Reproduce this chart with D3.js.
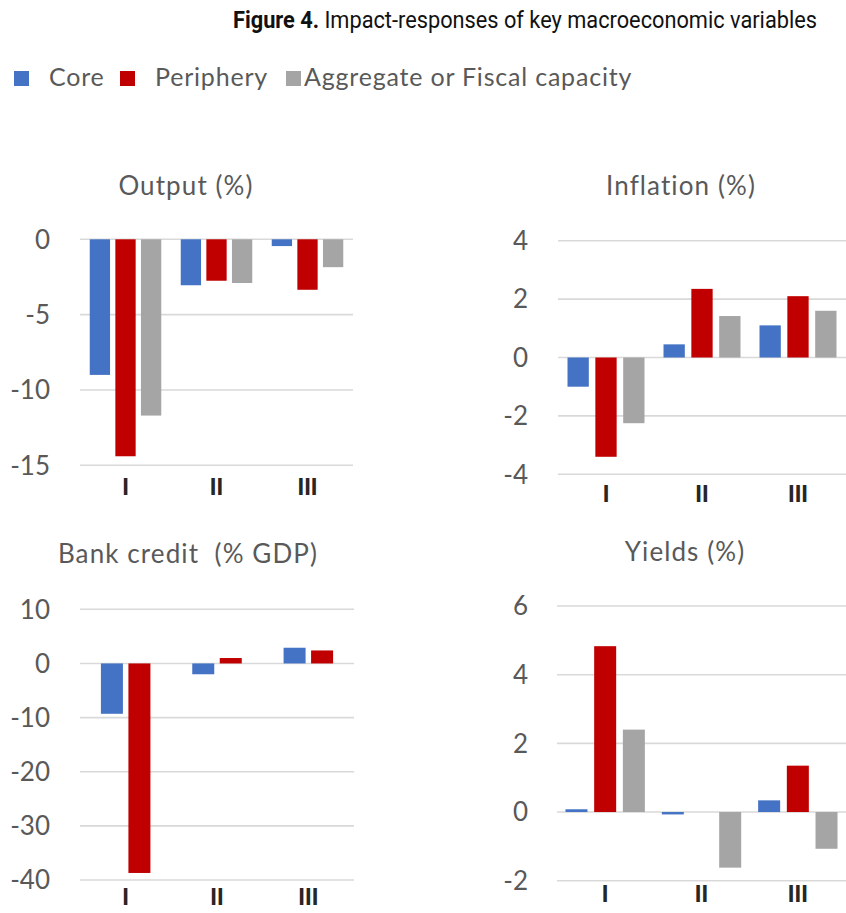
<!DOCTYPE html>
<html>
<head>
<meta charset="utf-8">
<script src="https://cdn.jsdelivr.net/npm/d3@7"></script>
<style>
  html, body { margin: 0; padding: 0; background: #ffffff; }
  svg { display: block; }
</style>
</head>
<body>
<script>
// ---------- DATA ----------
const categories = ["I", "II", "III"];
const seriesNames = ["Core", "Periphery", "Aggregate or Fiscal capacity"];
const seriesColors = ["#4472C4", "#C00000", "#A5A5A5"];

const outputCore = [-9.0, -3.05, -0.45];
const outputPeriphery = [-14.4, -2.75, -3.35];
const outputAggregate = [-11.7, -2.9, -1.85];
const outputTicks = [0, -5, -10, -15];

const inflationCore = [-1.0, 0.45, 1.1];
const inflationPeriphery = [-3.4, 2.35, 2.1];
const inflationAggregate = [-2.25, 1.42, 1.6];
const inflationTicks = [4, 2, 0, -2, -4];

const creditCore = [-9.3, -2.0, 2.9];
const creditPeriphery = [-38.7, 1.0, 2.4];
const creditTicks = [10, 0, -10, -20, -30, -40];

const yieldsCore = [0.08, -0.07, 0.34];
const yieldsPeriphery = [4.83, 0.0, 1.35];
const yieldsAggregate = [2.4, -1.62, -1.07];
const yieldsTicks = [6, 4, 2, 0, -2];

const titleBold = "Figure 4.";
const titleRest = " Impact-responses of key macroeconomic variables";

// ---------- LAYOUT ----------
const W = 846, H = 913;
const svg = d3.select("body").append("svg").attr("width", W).attr("height", H);

svg.append("text")
  .attr("x", 233).attr("y", 28)
  .attr("textLength", 584).attr("lengthAdjust", "spacingAndGlyphs")
  .style("font-family", "Roboto, sans-serif")
  .style("font-size", "23px")
  .attr("fill", "#111")
  .call(t => {
    t.append("tspan").attr("font-weight", "bold").text(titleBold);
    t.append("tspan").text(titleRest);
  });

// legend
const legendItems = [
  { sq: 14, tx: 49 },
  { sq: 120, tx: 155 },
  { sq: 286, tx: 304 }
];
seriesNames.forEach((name, i) => {
  svg.append("rect").attr("x", legendItems[i].sq).attr("y", 71)
    .attr("width", 15).attr("height", 15).attr("fill", seriesColors[i]);
  svg.append("text").attr("x", legendItems[i].tx).attr("y", 86)
    .style("font-family", "Lato, sans-serif").style("font-size", "25px")
    .style("letter-spacing", "0.8px")
    .attr("fill", "#595959").text(name);
});

const panels = [
  { title: "Output (%)", titleX: 186, titleY: 195,
    x0: 80, x1: 353, y0: 239.3, y1: 465.3, domain: [0, -15], ticks: outputTicks,
    series: [outputCore, outputPeriphery, outputAggregate],
    padOuter: 0.214, padInner: 0.207, labelEnd: 50, xPad: 13 },
  { title: "Inflation (%)", titleX: 681, titleY: 195,
    x0: 558, x1: 846, y0: 240.7, y1: 474.3, domain: [4, -4], ticks: inflationTicks,
    series: [inflationCore, inflationPeriphery, inflationAggregate],
    padOuter: 0.198, padInner: 0.235, labelEnd: 528, xPad: 11 },
  { title: "Bank credit  (% GDP)", titleX: 188, titleY: 563,
    x0: 80, x1: 354, y0: 609.3, y1: 880, domain: [10, -40], ticks: creditTicks,
    series: [creditCore, creditPeriphery],
    padOuter: 0.458, padInner: 0.2, labelEnd: 50, xPad: 8 },
  { title: "Yields (%)", titleX: 685, titleY: 561,
    x0: 557, x1: 846, y0: 606, y1: 880.7, domain: [6, -2], ticks: yieldsTicks,
    series: [yieldsCore, yieldsPeriphery, yieldsAggregate],
    padOuter: 0.176, padInner: 0.233, labelEnd: 528, xPad: 4 }
];

panels.forEach(p => {
  const g = svg.append("g");
  const x = d3.scaleBand().domain(categories).range([p.x0, p.x1])
    .paddingInner(p.padOuter).paddingOuter(p.padOuter / 2);
  const xs = d3.scaleBand().domain(d3.range(p.series.length))
    .range([0, x.bandwidth()]).paddingInner(p.padInner).paddingOuter(0);
  const y = d3.scaleLinear().domain(p.domain).range([p.y0, p.y1]);

  // title
  g.append("text").attr("x", p.titleX).attr("y", p.titleY)
    .attr("text-anchor", "middle")
    .style("font-family", "Lato, sans-serif").style("font-size", "26px")
    .style("letter-spacing", "1.1px")
    .style("white-space", "pre")
    .attr("fill", "#595959").text(p.title);

  // gridlines
  g.selectAll("line.grid").data(p.ticks).join("line")
    .attr("x1", p.x0).attr("x2", p.x1)
    .attr("y1", d => y(d)).attr("y2", d => y(d))
    .attr("stroke", "#d9d9d9").attr("stroke-width", 1.6);

  // y tick labels
  g.selectAll("text.ytick").data(p.ticks).join("text")
    .attr("x", p.labelEnd).attr("y", d => y(d)).attr("dy", "0.36em")
    .attr("text-anchor", "end")
    .style("font-family", "Lato, sans-serif").style("font-size", "26px")
    .attr("fill", "#595959").text(d => d3.format("d")(d).replace("−", "-"));

  // bars
  p.series.forEach((vals, si) => {
    g.selectAll(null).data(vals).join("rect")
      .attr("x", (d, i) => x(categories[i]) + xs(si))
      .attr("width", xs.bandwidth())
      .attr("y", d => y(Math.max(0, d)))
      .attr("height", d => Math.abs(y(d) - y(0)))
      .attr("fill", seriesColors[si]);
  });

  // x axis labels
  const ax = g.append("g").attr("transform", `translate(0,${p.y1})`)
    .call(d3.axisBottom(x).tickSize(0).tickPadding(p.xPad));
  ax.select(".domain").remove();
  ax.selectAll("text")
    .style("font-family", "'Liberation Sans', Arial, sans-serif")
    .style("font-size", "24px").style("font-weight", "bold")
    .attr("fill", "#262626");
});
</script>
</body>
</html>
